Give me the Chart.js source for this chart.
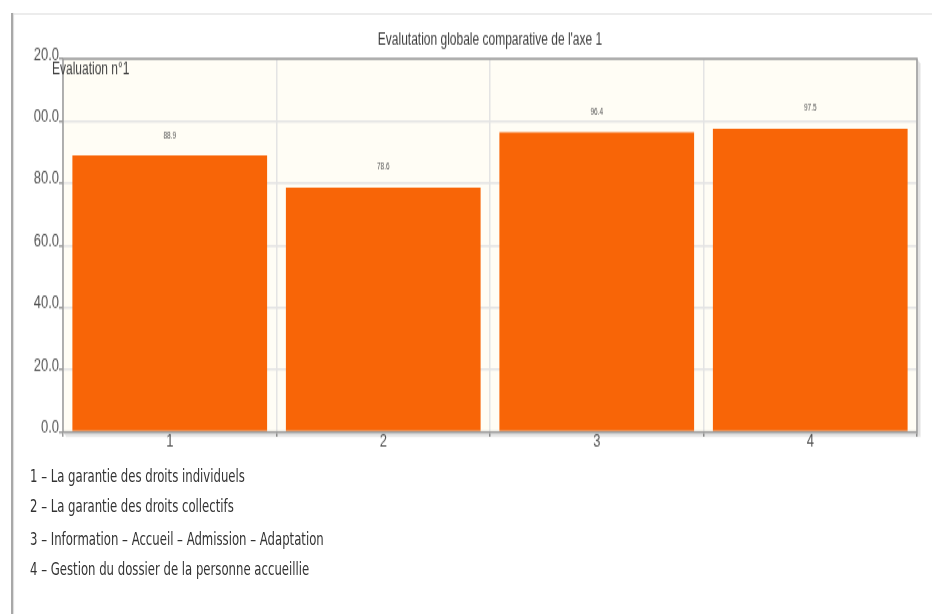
<!DOCTYPE html>
<html>
<head>
<meta charset="utf-8">
<script src="https://cdn.jsdelivr.net/npm/chart.js@4.4.1/dist/chart.umd.min.js"></script>
<style>
  html, body { margin: 0; padding: 0; background: #fff; }
  body { width: 932px; height: 614px; overflow: hidden; position: relative; }
  #frameTop { position: absolute; left: 13px; top: 13px; right: 0; height: 2px; background: #ececec; }
  #frameLeft { position: absolute; left: 11px; top: 13px; bottom: 0; width: 2px; background: #a8a8a8; box-shadow: 1px 0 1px #dcdcdc; }
  /* the whole report block is drawn tall and narrow */
  #stretch { position: absolute; left: 0; top: 0; width: 932px; height: 439px; transform: scaleY(1.4); transform-origin: 0 0; }
  #wrap { position: absolute; left: 33px; top: 0; width: 899px; height: 329px; overflow: hidden; }
  #key { position: absolute; left: 30px; top: 329px; margin: 0; padding: 0; list-style: none;
         font: 13px "DejaVu Sans Condensed", "DejaVu Sans", sans-serif; color: #333; }
  #key li { height: 22.4px; line-height: 22.4px; white-space: nowrap; }
</style>
</head>
<body>
<div id="frameTop"></div>
<div id="frameLeft"></div>
<div id="stretch">
  <div id="wrap"><canvas id="c" width="899" height="329"></canvas></div>
  <ul id="key"></ul>
</div>
<script>
// Axis 1 themes and their scores
const categories = ['1', '2', '3', '4'];
const themes = [
  'La garantie des droits individuels',
  'La garantie des droits collectifs',
  'Information – Accueil – Admission – Adaptation',
  'Gestion du dossier de la personne accueillie'
];
const scores = [88.9, 78.6, 96.4, 97.5];
const yTicks = [0, 20, 40, 60, 80, 100, 120];
const chartTitle = "Evalutation globale comparative de l'axe 1";
const seriesName = 'Evaluation n°1';

// numbered key under the chart
const key = document.getElementById('key');
categories.forEach((c, i) => {
  const li = document.createElement('li');
  li.textContent = c + ' – ' + themes[i];
  key.appendChild(li);
});

const FONT = '"Liberation Sans", Arial, sans-serif';

// cream plot background
const plotBackground = {
  id: 'plotBackground',
  beforeDraw(chart) {
    const { ctx, chartArea: a } = chart;
    ctx.save();
    ctx.fillStyle = '#fffdf5';
    ctx.fillRect(a.left, a.top, a.right - a.left, a.bottom - a.top);
    ctx.restore();
  }
};

// grey frame with a soft shadow on the right and bottom
const plotFrame = {
  id: 'plotFrame',
  afterDraw(chart) {
    const { ctx, chartArea: a } = chart;
    ctx.save();
    for (let i = 1; i <= 3; i++) {
      ctx.strokeStyle = 'rgba(0,0,0,0.08)';
      ctx.lineWidth = 1.5;
      ctx.beginPath();
      ctx.moveTo(a.left + i, a.bottom + i);
      ctx.lineTo(a.right + i, a.bottom + i);
      ctx.lineTo(a.right + i, a.top + i);
      ctx.stroke();
    }
    ctx.strokeStyle = '#9c9c9c';
    ctx.lineWidth = 1.5;
    ctx.strokeRect(a.left, a.top, a.right - a.left, a.bottom - a.top);
    ctx.restore();
  }
};

// title, series name and the value above each bar
const annotations = {
  id: 'annotations',
  afterDraw(chart) {
    const { ctx, chartArea: a } = chart;
    ctx.save();
    ctx.fillStyle = '#3c3c3c';
    ctx.textBaseline = 'middle';
    ctx.textAlign = 'center';
    ctx.font = '12px ' + FONT;
    ctx.fillText(chartTitle, (a.left + a.right) / 2, 29);

    ctx.textAlign = 'left';
    ctx.fillStyle = '#444';
    ctx.fillText(seriesName, 19, a.top + 7.2);

    ctx.fillStyle = '#555';
    ctx.font = '6.5px ' + FONT;
    ctx.textAlign = 'center';
    const meta = chart.getDatasetMeta(0);
    meta.data.forEach((bar, i) => {
      ctx.fillText(scores[i].toFixed(1), bar.x, bar.y - 14.3);
    });
    ctx.restore();
  }
};

new Chart(document.getElementById('c'), {
  type: 'bar',
  data: {
    labels: categories,
    datasets: [{
      label: seriesName,
      data: scores,
      backgroundColor: '#f86507',
      borderWidth: 0,
      categoryPercentage: 1,
      barPercentage: 0.912
    }]
  },
  options: {
    responsive: false,
    animation: false,
    devicePixelRatio: 1,
    layout: { padding: { top: 42, right: 15, left: 0, bottom: 0 } },
    plugins: { legend: { display: false }, tooltip: { enabled: false }, title: { display: false } },
    scales: {
      x: {
        afterFit(s) { s.height = 20.4; },
        border: { display: false },
        grid: { offset: true, color: '#e4e4e4', lineWidth: 1.5, tickColor: '#9c9c9c', tickLength: 3.5 },
        ticks: { color: '#555', padding: -3.5, font: { family: FONT, size: 13, lineHeight: 1 } }
      },
      y: {
        min: 0,
        max: 120,
        afterFit(s) { s.width = 30; },
        afterBuildTicks(s) { s.ticks = yTicks.map(v => ({ value: v })); },
        border: { display: false },
        grid: { color: '#e4e4e4', lineWidth: 1.5, tickColor: '#9c9c9c', tickLength: 4 },
        ticks: {
          color: '#555',
          padding: 0,
          labelOffset: -3,
          font: { family: FONT, size: 13 },
          callback: v => Number(v).toFixed(1)
        }
      }
    }
  },
  plugins: [plotBackground, plotFrame, annotations]
});
</script>
</body>
</html>
